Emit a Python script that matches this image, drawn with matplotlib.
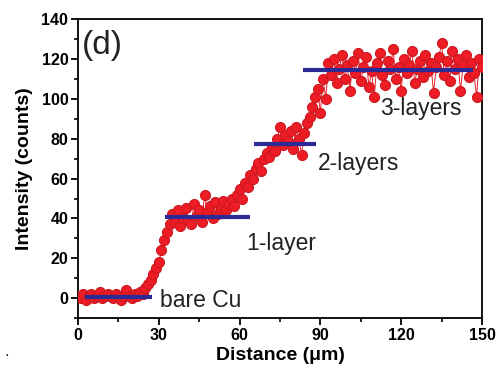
import numpy as np
import matplotlib
matplotlib.use('Agg')
import matplotlib.pyplot as plt

plt.rcParams['font.family'] = ['Liberation Sans', 'DejaVu Sans']

# line profile, one point per micron (0..150)
intensity = [1, 0, 2, -1, 1, 2, 0, 1, 3, 0, 1, 2, 1, 0, 2, 1, -1, 1, 4, 1, 0, 2, 1, 3, 2,
             5, 7, 9, 12, 15, 18, 24, 29, 33, 37,
             42, 38, 44, 36, 40, 45, 39, 37, 47, 41, 44, 38, 52, 43, 46, 40, 48, 42, 45, 49, 44, 47, 50,
             46, 52, 55, 50, 58, 56, 62, 60, 65, 68, 64, 70, 73,
             71, 76, 74, 80, 86, 77, 82, 79, 84, 75, 86, 80, 72, 83, 88, 91,
             96, 101, 105, 93, 110, 100,
             118, 112, 120, 108, 115, 122, 110, 117, 104, 119,
             113, 123, 109, 116, 121, 106, 114, 101, 118, 123,
             112, 107, 119, 115, 125, 110, 116, 104, 120, 113,
             117, 124, 108, 115, 119, 111, 122, 114, 118, 103,
             116, 121, 128, 112, 119, 109, 124, 115, 120, 104,
             117, 122, 111, 118, 113, 101, 120, 116]
distance = np.arange(len(intensity))

# mean levels (blue bars)
levels = ['bare Cu', '1-layer', '2-layers', '3-layers']
level_val = [0.5, 40.7, 77.5, 114.6]
level_start = [2.6, 32.3, 65.4, 83.5]
level_end = [27.5, 63.9, 88.5, 146.5]
label_x = [30.5, 62.5, 89, 112]
label_y = [-1, 27.5, 67.5, 95]

fig = plt.figure(figsize=(5, 3.73), dpi=100)
ax = fig.add_axes([0.156, 0.147, 0.808, 0.802])

ax.plot(distance, intensity, '-', color='#e8202a', lw=0.7, zorder=2)
ax.plot(distance, intensity, 'o', ms=7.2, mfc='#ee1c25', mec='#cc1820', mew=0.8, zorder=3)

for i in range(len(levels)):
    ax.hlines(level_val[i], level_start[i], level_end[i], color='#2b2b96', lw=3, zorder=4)
    ax.text(label_x[i], label_y[i], levels[i], fontsize=16.5, va='center', ha='left', color='#222222')

ax.text(1.3, 126.5, '(d)', fontsize=24, va='center', ha='left', color='#222222')

ax.set_xlim(0, 150)
ax.set_ylim(-10, 140)
ax.set_xticks([0, 30, 60, 90, 120, 150])
ax.set_xticks([15, 45, 75, 105, 135], minor=True)
ax.set_yticks([0, 20, 40, 60, 80, 100, 120, 140])
ax.set_yticks([-10, 10, 30, 50, 70, 90, 110, 130], minor=True)
ax.tick_params(which='major', direction='out', length=5, width=1.3, labelsize=11.5, pad=2)
ax.tick_params(which='minor', direction='out', length=3, width=1.2)
for lab in ax.get_xticklabels() + ax.get_yticklabels():
    lab.set_fontweight('bold')
for s in ax.spines.values():
    s.set_linewidth(1.3)

ax.set_xlabel('Distance (\u03bcm)', fontsize=14, fontweight='bold', labelpad=3)
ax.set_ylabel('Intensity (counts)', fontsize=14, fontweight='bold', labelpad=6)

fig.text(0.008, 0.045, '.', fontsize=12, color='#222222')

fig.savefig('out.png', dpi=100)
